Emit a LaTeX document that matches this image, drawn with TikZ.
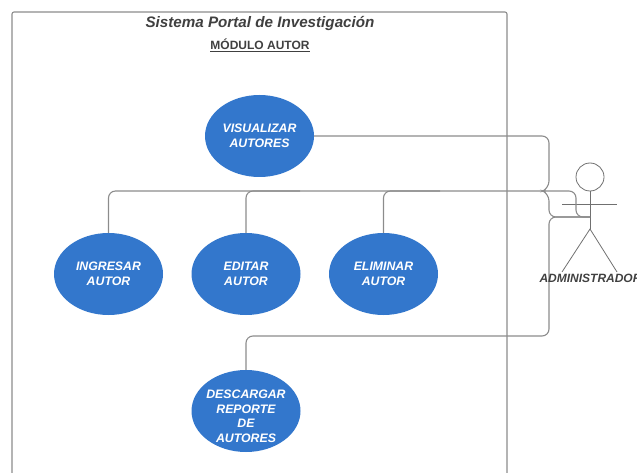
\documentclass[tikz,border=0pt]{standalone}
\usepackage{fontspec}
\setmainfont{Liberation Sans}
\usetikzlibrary{shapes.geometric}
\definecolor{casoblue}{HTML}{3377CC}
\definecolor{linegray}{HTML}{8C8C8C}
\begin{document}
\begin{tikzpicture}[x=1pt, y=-1pt,
usecase/.style={ellipse, fill=casoblue, text=white, inner sep=0, minimum width=109pt, minimum height=82pt, align=center, font=\fontsize{12.3}{14.6}\selectfont\bfseries\itshape},
link/.style={linegray, line width=1.1pt, rounded corners=7pt},
stick/.style={linegray!80!black, line width=.8pt},
]
\useasboundingbox (0,0) rectangle (637,473);
\clip (0,0) rectangle (637,473);
%%%%%%%%% SYSTEM BOX %%%%%%%%%
\draw[linegray, line width=1.1pt, rounded corners=2pt] (12,480)--(12,12)--(507,12)--(507,480);
\node[font=\fontsize{15.2}{18}\selectfont\bfseries\itshape, text=black!75] (Titulo) at (260,23.5) {Sistema Portal de Investigación};
\node[font=\fontsize{12}{15}\selectfont\bfseries, text=black!75] (Modulo) at (260,45) {\underline{MÓDULO AUTOR}};
%%%%%%%%% USE CASES %%%%%%%%%
\node[usecase] (Visualizar) at (259.5,136) {VISUALIZAR\\AUTORES};
\node[usecase] (Ingresar) at (108.5,274) {INGRESAR\\AUTOR};
\node[usecase] (Editar) at (246,274) {EDITAR\\AUTOR};
\node[usecase] (Eliminar) at (383.5,274) {ELIMINAR\\AUTOR};
\node[usecase, inner sep=-12pt] (Descargar) at (246,411) {\rule{0pt}{19pt}DESCARGAR\\REPORTE\\DE\\AUTORES};
%%%%%%%%% ACTOR %%%%%%%%%
\node[draw=linegray!80!black, line width=.8pt, circle, minimum size=28pt, inner sep=0] (Cabeza) at (590,177) {};
\coordinate (Cadera) at (590,229);
\coordinate (Pecho) at (590,217);
\coordinate (ManoI) at (562,204);
\coordinate (ManoD) at (617,204);
\coordinate (PieI) at (562,272);
\coordinate (PieD) at (617,272);
\draw[stick] (Cabeza.south)--(Cadera);
\draw[stick] (ManoI)--(ManoD);
\draw[stick] (PieI)--(Cadera)--(PieD);
%%%%%%%%% CONNECTORS %%%%%%%%%
\draw[link] (Visualizar.east)--(549,136)--(549,188) .. controls (546,189.5) and (546,192.5) .. (549,194)--(549,217)--(Pecho);
\draw[link] (Ingresar.north)--(108.5,191)--(576,191)--(576,217)--(Pecho);
\draw[link] (Editar.north)--(246,191)--(300,191);
\draw[link] (Eliminar.north)--(383.5,191)--(440,191);
\draw[link] (Descargar.north)--(246,336)--(549,336)--(549,217)--(Pecho);
\node[font=\fontsize{12}{15}\selectfont\bfseries\itshape, text=black!75] (Actor) at (590.5,278) {ADMINISTRADOR};
\end{tikzpicture}
\end{document}
